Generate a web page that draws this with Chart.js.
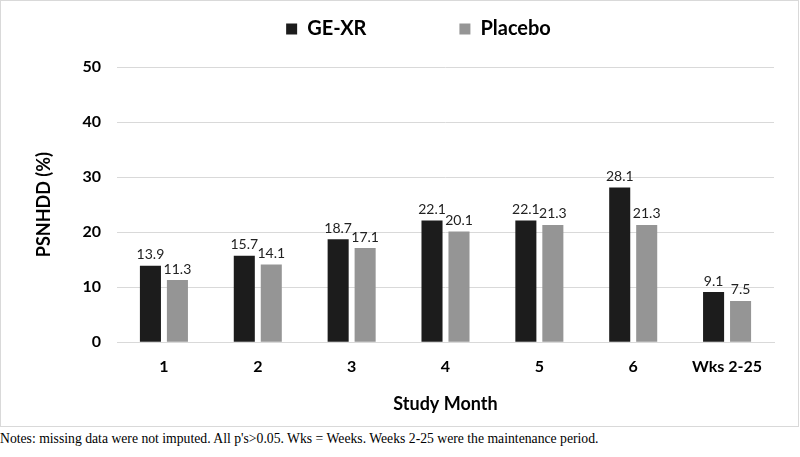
<!DOCTYPE html>
<html>
<head>
<meta charset="utf-8">
<script src="https://cdn.jsdelivr.net/npm/chart.js@4/dist/chart.umd.min.js"></script>
<style>
  body { margin: 0; background: #fff; width: 800px; height: 457px; overflow: hidden; }
  #frame { position: absolute; left: 0; top: 0; width: 797px; height: 425px; border: 1px solid #d9d9d9; }
  #note { position: absolute; left: 0; top: 431px; font: 13.7px "Liberation Serif", "Times New Roman", serif; color: #000; white-space: nowrap; }
</style>
</head>
<body>
<div id="frame"><canvas id="barChart" width="797" height="425"></canvas></div>
<div id="note">Notes: missing data were not imputed. All p's&gt;0.05. Wks = Weeks. Weeks 2-25 were the maintenance period.</div>
<script>
  'use strict';

  // study months
  var months = ['1', '2', '3', '4', '5', '6', 'Wks 2-25'];
  var geXr = [13.9, 15.7, 18.7, 22.1, 22.1, 28.1, 9.1];
  var placebo = [11.3, 14.1, 17.1, 20.1, 21.3, 21.3, 7.5];
  var yTicks = [0, 10, 20, 30, 40, 50];

  var fontFam = 'Lato, "Open Sans", sans-serif';

  // value labels above the bars
  var valueLabels = {
    id: 'valueLabels',
    afterDatasetsDraw: function (chart) {
      var ctx = chart.ctx;
      ctx.save();
      ctx.font = '14px ' + fontFam;
      ctx.fillStyle = '#222';
      ctx.textAlign = 'center';
      ctx.textBaseline = 'bottom';
      chart.data.datasets.forEach(function (ds, i) {
        chart.getDatasetMeta(i).data.forEach(function (bar, j) {
          ctx.fillText(ds.data[j].toFixed(1), bar.x, bar.y - 4);
        });
      });
      ctx.restore();
    }
  };

  // extra room under the legend, and nudge it a bit to the right
  var legendTweak = {
    id: 'legendTweak',
    beforeLayout: function (chart) {
      var lg = chart.legend;
      if (lg && !lg._patched) {
        var fit = lg.fit;
        lg.fit = function () { fit.call(this); this.height += 18; };
        lg._patched = true;
      }
    },
    afterLayout: function (chart) {
      chart.legend.left += 17;
      chart.legend.right += 17;
    }
  };

  var ctx = document.getElementById('barChart').getContext('2d');
  var chart = new Chart(ctx, {
    type: 'bar',
    data: {
      labels: months,
      datasets: [
        { label: 'GE-XR', data: geXr, backgroundColor: '#1c1c1c' },
        { label: 'Placebo', data: placebo, backgroundColor: '#959595' }
      ]
    },
    options: {
      responsive: false,
      animation: false,
      layout: { padding: { left: 28, right: 24, top: 0, bottom: 7 } },
      datasets: { bar: { categoryPercentage: 0.575, barPercentage: 0.78 } },
      plugins: {
        tooltip: { enabled: false },
        legend: {
          labels: {
            boxWidth: 11,
            boxHeight: 11,
            padding: 18,
            color: '#000',
            font: { family: fontFam, size: 20, weight: 'bold' },
            generateLabels: function (c) {
              var items = Chart.defaults.plugins.legend.labels.generateLabels(c);
              items[0].text = items[0].text + '\u2003\u2003\u2003\u2003\u2003';
              return items;
            }
          }
        }
      },
      scales: {
        x: {
          grid: { display: false },
          border: { color: '#d9d9d9' },
          ticks: { color: '#000', padding: 7, font: { family: fontFam, size: 16, weight: 'bold' } },
          title: { display: true, text: 'Study Month', color: '#000', padding: { top: 10 }, font: { family: fontFam, size: 18, weight: 'bold' } }
        },
        y: {
          min: 0,
          max: 50,
          afterBuildTicks: function (s) { s.ticks = yTicks.map(function (v) { return { value: v }; }); },
          afterFit: function (s) { s.width = 88; },
          grid: { color: '#d9d9d9', drawTicks: false },
          border: { display: false },
          ticks: { color: '#000', padding: 16, font: { family: fontFam, size: 16, weight: 'bold' } },
          title: { display: true, text: 'PSNHDD (%)', color: '#000', font: { family: fontFam, size: 18, weight: 'bold' } }
        }
      }
    },
    plugins: [valueLabels, legendTweak]
  });
</script>
</body>
</html>
